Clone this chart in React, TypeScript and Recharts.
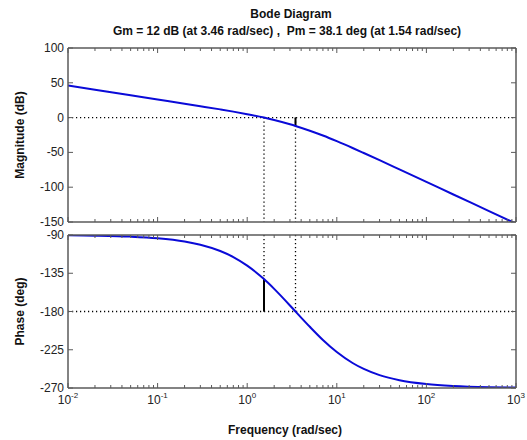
import React from "react";
import {
  LineChart,
  Line,
  XAxis,
  YAxis,
  ReferenceLine,
} from "recharts";

// frequency points (rad/sec)
const freq = [0.01, 0.02, 0.05, 0.1, 0.2, 0.3, 0.5, 0.7, 1, 1.54, 2, 3, 3.46, 5, 7, 10, 15, 20, 30, 50, 100, 200, 500, 1000];
// magnitude (dB)
const magnitude = [46.0, 40.0, 32.0, 26.0, 20.0, 16.4, 11.8, 8.6, 4.9, 0.0, -3.5, -9.6, -12.0, -18.9, -25.8, -33.9, -43.7, -50.9, -61.2, -74.4, -92.4, -110.5, -134.3, -152.4];
// phase (deg)
const phase = [-90.4, -90.8, -91.9, -93.8, -97.6, -101.4, -108.8, -115.9, -126.0, -141.9, -153.4, -172.9, -180.0, -198.0, -213.5, -227.7, -240.6, -247.6, -254.9, -260.9, -265.4, -267.7, -269.1, -269.5];

const decadeTicks = [0.01, 0.1, 1, 10, 100, 1000];
const magTicks = [-150, -100, -50, 0, 50, 100];
const phaseTicks = [-270, -225, -180, -135, -90];

// margins
const gmDb = 12;
const gmFreq = 3.46;
const pmDeg = 38.1;
const pmFreq = 1.54;

const FONT = "'Liberation Sans', Arial, Helvetica, sans-serif";
const FRAME = "#5a5a5a";
const BLUE = "#0a0ad8";

// minor log ticks 2..9 in each decade, plus the decades
const freqTicks: number[] = [];
decadeTicks.forEach((d, i) => {
  freqTicks.push(d);
  if (i < decadeTicks.length - 1) {
    for (let m = 2; m <= 9; m++) freqTicks.push(+(d * m).toPrecision(3));
  }
});

const magData = freq.map((f, i) => ({ f, v: magnitude[i] }));
const phaseData = freq.map((f, i) => ({ f, v: phase[i] }));

const FreqTick = (props: any) => {
  const { x, y, payload, side, showLabel } = props;
  const v = payload.value as number;
  const exp = Math.round(Math.log10(v));
  const major = Math.abs(v - Math.pow(10, exp)) < 1e-6 * v;
  const len = major ? 5 : 3;
  const dir = side === "top" ? 1 : -1;
  return (
    <g>
      <line x1={x} x2={x} y1={y} y2={y + dir * len} stroke={FRAME} strokeWidth={1} />
      {showLabel && major && (
        <text x={x} y={y + 16} textAnchor="middle" fontSize={12} fill="#222" fontFamily={FONT}>
          10
          <tspan dy={-6} fontSize={8}>{exp}</tspan>
        </text>
      )}
    </g>
  );
};

const ValueTick = (props: any) => {
  const { x, y, payload, side } = props;
  const dir = side === "right" ? -1 : 1;
  return (
    <g>
      <line x1={x} x2={x + dir * 5} y1={y} y2={y} stroke={FRAME} strokeWidth={1} />
      {side === "left" && (
        <text x={x - 4} y={y + 4} textAnchor="end" fontSize={12} fill="#222" fontFamily={FONT}>
          {payload.value}
        </text>
      )}
    </g>
  );
};

const axisLine = { stroke: FRAME, strokeWidth: 1.5 };
const dotted = "1.2 2.8";
const labelStyle = { textAnchor: "middle", fontWeight: "bold", fontSize: 12, fill: "#111", fontFamily: FONT };

export default function App() {
  return (
    <div
      style={{
        position: "absolute",
        left: 0,
        top: 0,
        width: 527,
        height: 440,
        background: "#fff",
        fontFamily: FONT,
      }}
    >
      <div style={{ position: "absolute", left: 91, width: 400, top: 7, textAlign: "center", fontSize: 12, fontWeight: "bold", color: "#111" }}>
        Bode Diagram
      </div>
      <div style={{ position: "absolute", left: 37, width: 500, top: 24, textAlign: "center", fontSize: 12, fontWeight: "bold", color: "#111", whiteSpace: "pre" }}>
        {`Gm = ${gmDb} dB (at ${gmFreq} rad/sec) ,  Pm = ${pmDeg} deg (at ${pmFreq} rad/sec)`}
      </div>

      <div style={{ position: "absolute", left: 0, top: 0 }}>
        <LineChart width={527} height={230} data={magData} margin={{ top: 47, right: 10, bottom: 7, left: 0 }}>
          <XAxis xAxisId="b" dataKey="f" type="number" scale="log" domain={[0.01, 1000]} allowDataOverflow ticks={freqTicks} interval={0} height={1} tickSize={0} tickMargin={0} tickLine={false} axisLine={axisLine} tick={(p: any) => <FreqTick {...p} side="bottom" showLabel={false} />} />
          <XAxis xAxisId="t" orientation="top" dataKey="f" type="number" scale="log" domain={[0.01, 1000]} allowDataOverflow ticks={freqTicks} interval={0} height={1} tickSize={0} tickMargin={0} tickLine={false} axisLine={axisLine} tick={(p: any) => <FreqTick {...p} side="top" />} />
          <YAxis
            yAxisId="l"
            type="number"
            domain={[-150, 100]}
            allowDataOverflow
            ticks={magTicks}
            interval={0}
            width={68}
            tickSize={0}
            tickMargin={0}
            tickLine={false}
            axisLine={axisLine}
            tick={(p: any) => <ValueTick {...p} side="left" />}
            label={{ value: "Magnitude (dB)", angle: -90, position: "insideLeft", offset: 20, style: labelStyle }}
          />
          <YAxis yAxisId="r" orientation="right" type="number" domain={[-150, 100]} allowDataOverflow ticks={magTicks} interval={0} width={1} tickSize={0} tickMargin={0} tickLine={false} axisLine={axisLine} tick={(p: any) => <ValueTick {...p} side="right" />} />
          <ReferenceLine xAxisId="b" yAxisId="l" y={0} stroke="#000" strokeDasharray={dotted} strokeWidth={1.3} />
          <ReferenceLine xAxisId="b" yAxisId="l" segment={[{ x: pmFreq, y: 0 }, { x: pmFreq, y: -150 }]} stroke="#000" strokeDasharray={dotted} strokeWidth={1.3} />
          <ReferenceLine xAxisId="b" yAxisId="l" segment={[{ x: gmFreq, y: 0 }, { x: gmFreq, y: -150 }]} stroke="#000" strokeDasharray={dotted} strokeWidth={1.3} />
          <ReferenceLine xAxisId="b" yAxisId="l" segment={[{ x: gmFreq, y: 0 }, { x: gmFreq, y: -gmDb }]} stroke="#000" strokeWidth={2} />
          <Line xAxisId="b" yAxisId="l" dataKey="v" type="monotone" stroke={BLUE} strokeWidth={2} dot={false} isAnimationActive={false} />
        </LineChart>
      </div>

      <div style={{ position: "absolute", left: 0, top: 222 }}>
        <LineChart width={527} height={218} data={phaseData} margin={{ top: 12, right: 10, bottom: 51, left: 0 }}>
          <XAxis xAxisId="b" dataKey="f" type="number" scale="log" domain={[0.01, 1000]} allowDataOverflow ticks={freqTicks} interval={0} height={1} tickSize={0} tickMargin={0} tickLine={false} axisLine={axisLine} tick={(p: any) => <FreqTick {...p} side="bottom" showLabel />} />
          <XAxis xAxisId="t" orientation="top" dataKey="f" type="number" scale="log" domain={[0.01, 1000]} allowDataOverflow ticks={freqTicks} interval={0} height={1} tickSize={0} tickMargin={0} tickLine={false} axisLine={axisLine} tick={(p: any) => <FreqTick {...p} side="top" />} />
          <YAxis
            yAxisId="l"
            type="number"
            domain={[-270, -90]}
            allowDataOverflow
            ticks={phaseTicks}
            interval={0}
            width={68}
            tickSize={0}
            tickMargin={0}
            tickLine={false}
            axisLine={axisLine}
            tick={(p: any) => <ValueTick {...p} side="left" />}
            label={{ value: "Phase (deg)", angle: -90, position: "insideLeft", offset: 20, style: labelStyle }}
          />
          <YAxis yAxisId="r" orientation="right" type="number" domain={[-270, -90]} allowDataOverflow ticks={phaseTicks} interval={0} width={1} tickSize={0} tickMargin={0} tickLine={false} axisLine={axisLine} tick={(p: any) => <ValueTick {...p} side="right" />} />
          <ReferenceLine xAxisId="b" yAxisId="l" y={-180} stroke="#000" strokeDasharray={dotted} strokeWidth={1.3} />
          <ReferenceLine xAxisId="b" yAxisId="l" segment={[{ x: pmFreq, y: -90 }, { x: pmFreq, y: -180 }]} stroke="#000" strokeDasharray={dotted} strokeWidth={1.3} />
          <ReferenceLine xAxisId="b" yAxisId="l" segment={[{ x: gmFreq, y: -90 }, { x: gmFreq, y: -180 }]} stroke="#000" strokeDasharray={dotted} strokeWidth={1.3} />
          <ReferenceLine xAxisId="b" yAxisId="l" segment={[{ x: pmFreq, y: -180 }, { x: pmFreq, y: -180 + pmDeg }]} stroke="#000" strokeWidth={2} />
          <Line xAxisId="b" yAxisId="l" dataKey="v" type="monotone" stroke={BLUE} strokeWidth={2} dot={false} isAnimationActive={false} />
        </LineChart>
      </div>

      <div style={{ position: "absolute", left: 185, width: 200, top: 423, textAlign: "center", fontSize: 12, fontWeight: "bold", color: "#111" }}>
        Frequency (rad/sec)
      </div>
    </div>
  );
}
